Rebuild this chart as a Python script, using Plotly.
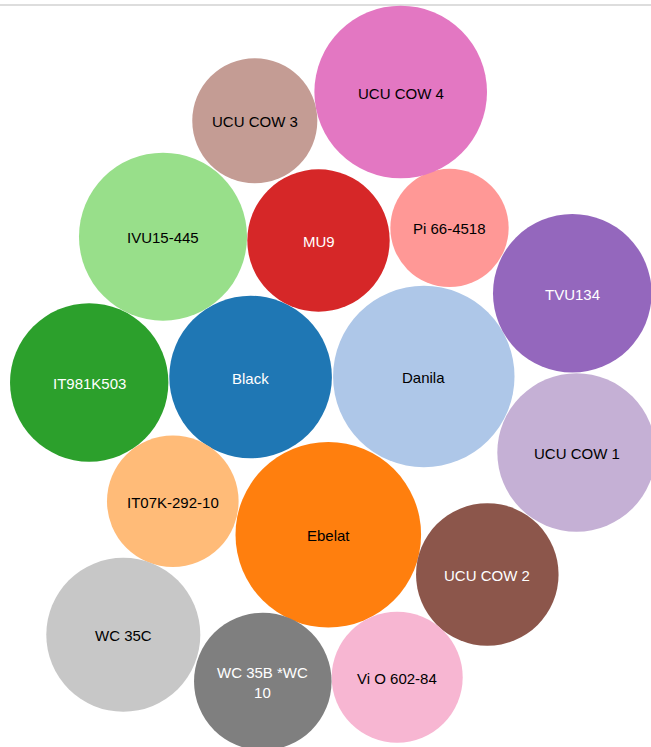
import numpy as np
import plotly.graph_objects as go

# Bubble data: one circle per variety, area proportional to value
varieties = ["Black", "Danila", "Ebelat", "IT07K-292-10", "IT981K503", "IVU15-445",
             "MU9", "Pi 66-4518", "TVU134", "UCU COW 1", "UCU COW 2", "UCU COW 3",
             "UCU COW 4", "Vi O 602-84", "WC 35B *WC 10", "WC 35C"]
values = [66.1, 82.3, 86.1, 43.3, 62.7, 70.6, 50.7, 35.0, 62.9, 62.7, 50.8, 39.1,
          74.5, 42.9, 47.3, 59.3]

# Packed layout (centres in pixel space of the 651x747 canvas)
pack_x = [250.6, 423.8, 328.3, 172.8, 89.2, 163.0, 318.5, 449.5, 572.3, 576.5,
          487.3, 254.8, 400.7, 397.2, 262.8, 123.3]
pack_y = [377.0, 376.5, 534.7, 501.3, 382.5, 236.7, 240.5, 227.8, 293.3, 452.5,
          574.5, 120.8, 92.0, 677.2, 681.5, 634.8]

# d3 category20
colors = ["#1f77b4", "#aec7e8", "#ff7f0e", "#ffbb78", "#2ca02c", "#98df8a",
          "#d62728", "#ff9896", "#9467bd", "#c5b0d5", "#8c564b", "#c49c94",
          "#e377c2", "#f7b6d2", "#7f7f7f", "#c7c7c7"]
dark = {"#1f77b4", "#2ca02c", "#d62728", "#9467bd", "#8c564b", "#7f7f7f"}

W, H = 651, 747
radius = 10 * np.sqrt(np.array(values))
labels = [v.replace(" *WC 10", " *WC<br>10") for v in varieties]
text_colors = ["white" if c in dark else "black" for c in colors]

fig = go.Figure()
fig.add_trace(go.Scatter(
    x=pack_x, y=pack_y,
    mode="markers",
    marker=dict(size=2 * radius, sizemode="diameter", color=colors,
                line=dict(width=0), opacity=1),
    hoverinfo="text",
    hovertext=varieties,
    showlegend=False,
))

# labels centred in each bubble
for x, y, lab, tc in zip(pack_x, pack_y, labels, text_colors):
    fig.add_annotation(x=x, y=y, text=lab, showarrow=False, yshift=-1,
                       font=dict(family="Liberation Sans, Arial, sans-serif", size=15, color=tc))

# thin rule along the top edge
fig.add_shape(type="line", xref="paper", yref="y", x0=0, x1=1, y0=5, y1=5,
              line=dict(color="#d2d2d2", width=1.5), layer="below")

fig.update_xaxes(range=[0, W], visible=False, showgrid=False, zeroline=False, fixedrange=True)
fig.update_yaxes(range=[H, 0], visible=False, showgrid=False, zeroline=False, fixedrange=True)
fig.update_layout(
    width=W, height=H,
    margin=dict(l=0, r=0, t=0, b=0),
    plot_bgcolor="white", paper_bgcolor="white",
)

# drop the default page margin so the chart sits at the window corner
fig.write_html("out.html", config={"displayModeBar": False},
               post_script="document.body.style.margin='0';document.body.style.overflow='hidden';")
